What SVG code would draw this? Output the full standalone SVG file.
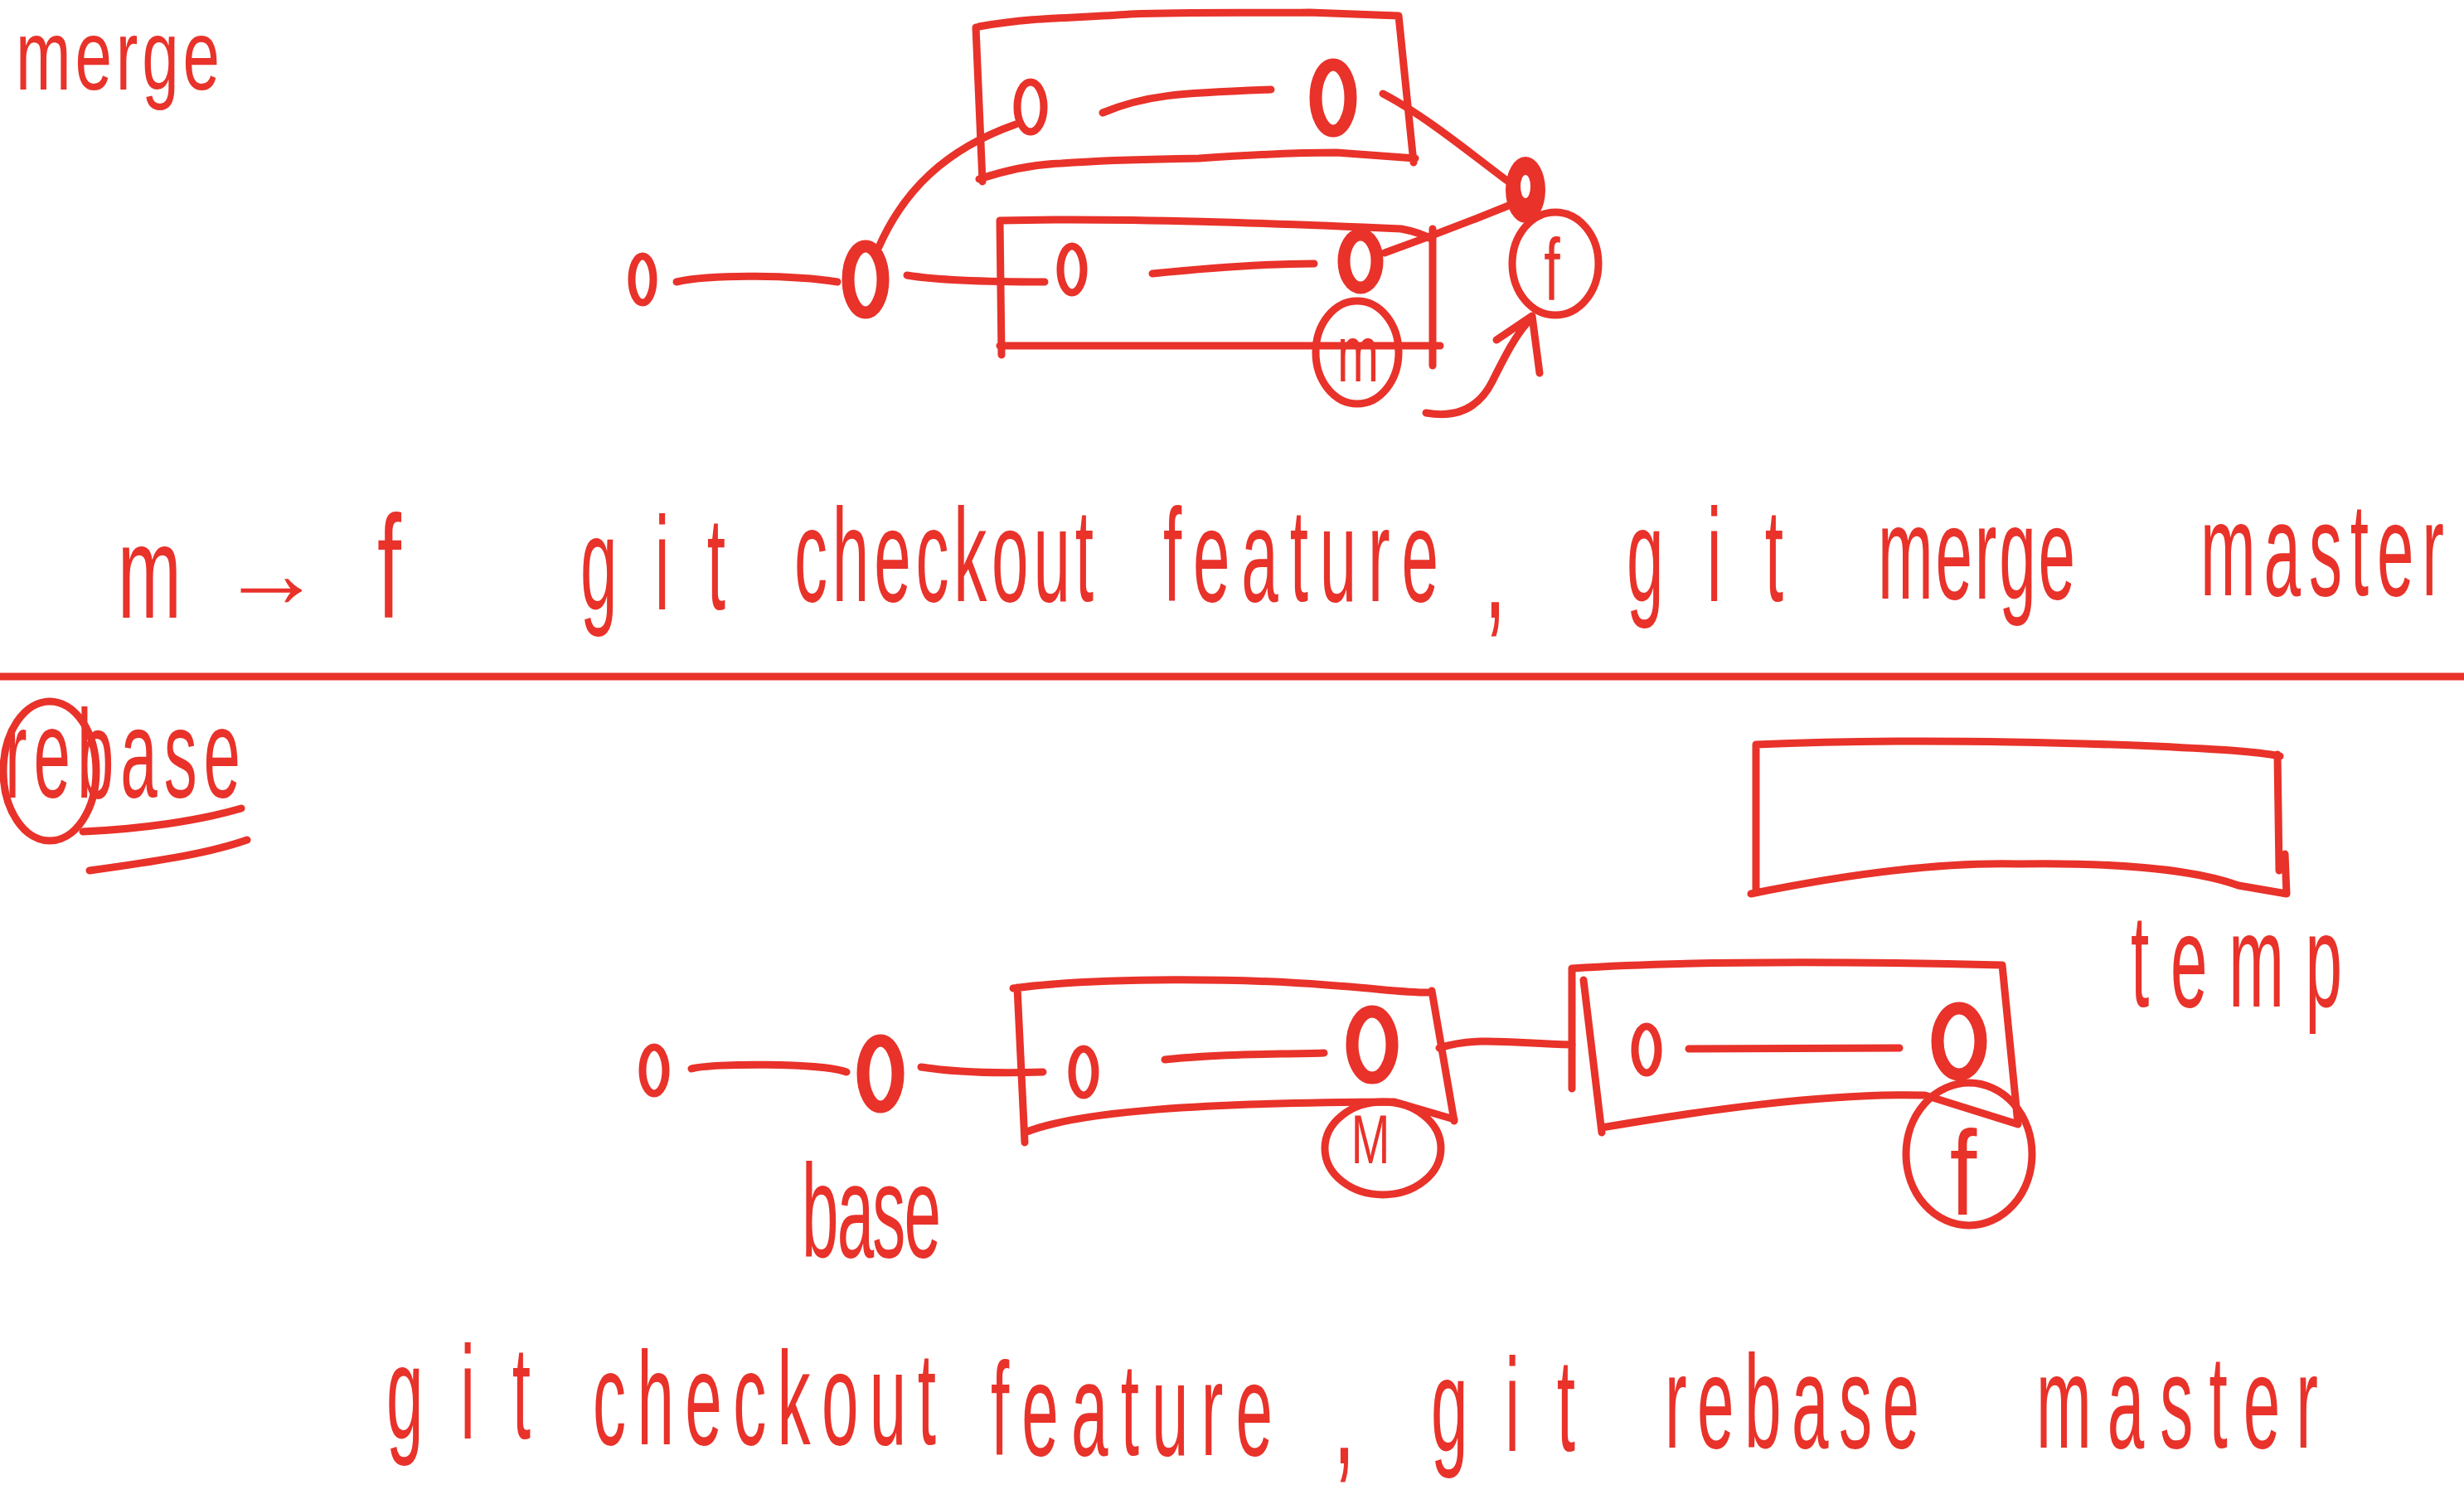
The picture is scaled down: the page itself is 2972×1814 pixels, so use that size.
<svg xmlns="http://www.w3.org/2000/svg" width="2972" height="1814" viewBox="0 0 2972 1814">
<style>
.ink{fill:none;stroke:#e8322a;stroke-width:9;stroke-linecap:round;stroke-linejoin:round}
.c{fill:none;stroke:#e8322a;stroke-width:9}
.cb{fill:none;stroke:#e8322a;stroke-width:15}
.hw{fill:#e8322a;font-family:"Liberation Sans","DejaVu Sans",sans-serif;font-size:80px}
.lb{fill:#e8322a;font-family:"Liberation Sans","DejaVu Sans",sans-serif;text-anchor:middle}
</style>
<rect width="2972" height="1814" fill="#ffffff"/>

<!-- titles and commands -->
<g id="labels">
<text class="hw" font-size="76" transform="translate(19,108) scale(1,1.5)" textLength="246" lengthAdjust="spacing">merge</text>
<text class="hw" transform="translate(142,745) scale(1.15,2)">m</text>
<text class="lb" font-size="120" transform="translate(327,732)" textLength="124" lengthAdjust="spacingAndGlyphs">→</text>
<text class="hw" transform="translate(455,745) scale(1.3,2.2)">f</text>
<text class="hw" transform="translate(700,735) scale(1,2)" textLength="175" lengthAdjust="spacing">git</text>
<text class="hw" transform="translate(958,725) scale(1,2)" textLength="361" lengthAdjust="spacing">checkout</text>
<text class="hw" transform="translate(1403,725) scale(1,2)" textLength="332" lengthAdjust="spacing">feature</text>
<text class="hw" transform="translate(1790,745) scale(1.2,2.2)">,</text>
<text class="hw" transform="translate(1962,725) scale(1,2)" textLength="189" lengthAdjust="spacing">git</text>
<text class="hw" transform="translate(2265,722) scale(1,2)" textLength="238" lengthAdjust="spacing">merge</text>
<text class="hw" transform="translate(2654,718) scale(1,2)" textLength="294" lengthAdjust="spacing">master</text>

<text class="hw" transform="translate(6,962) scale(1,1.9)" textLength="284" lengthAdjust="spacing">rebase</text>
<text class="hw" transform="translate(967,1516) scale(1,2)" textLength="168" lengthAdjust="spacing">base</text>
<text class="hw" transform="translate(2570,1214) scale(1,2)" textLength="255" lengthAdjust="spacing">temp</text>

<text class="hw" transform="translate(466,1735) scale(1,2)" textLength="174" lengthAdjust="spacing">git</text>
<text class="hw" transform="translate(715,1742) scale(1,2)" textLength="414" lengthAdjust="spacing">checkout</text>
<text class="hw" transform="translate(1195,1755) scale(1,2)" textLength="340" lengthAdjust="spacing">feature</text>
<text class="hw" transform="translate(1608,1765) scale(1.2,2.2)">,</text>
<text class="hw" transform="translate(1726,1750) scale(1,2)" textLength="174" lengthAdjust="spacing">git</text>
<text class="hw" transform="translate(2008,1746) scale(1,2)" textLength="307" lengthAdjust="spacing">rebase</text>
<text class="hw" transform="translate(2456,1746) scale(1,2)" textLength="340" lengthAdjust="spacing">master</text>
</g>

<!-- decorations -->
<g id="rebase-marks">
<ellipse class="c" cx="60" cy="930" rx="56" ry="84"/>
<path class="ink" d="M100,1003 C170,1000 240,990 291,975" stroke-width="10"/>
<path class="ink" d="M108,1050 C180,1040 250,1030 298,1013" stroke-width="10"/>
</g>
<path class="ink" id="divider" d="M0,816 L2972,816"/>

<!-- merge nodes -->
<g id="m-c1"><ellipse class="c" cx="775" cy="337" rx="13" ry="28"/></g>
<g id="m-c2"><ellipse class="cb" cx="1044" cy="337" rx="21" ry="40"/></g>
<g id="m-master-branch">
<path class="ink" d="M1206,266 C1350,262 1550,270 1690,276 Q1712,280 1728,289 M1206,266 L1208,428 M1728,276 L1728,441 M1206,417 L1737,417"/>
<ellipse class="c" cx="1293" cy="325" rx="14" ry="28"/>
<ellipse class="cb" cx="1641" cy="315" rx="20" ry="32"/>
</g>
<g id="m-feature-branch">
<path class="ink" d="M1181,32 C1250,20 1300,22 1363,17 C1450,14 1520,16 1579,15 L1687,19 M1177,33 L1185,219 M1687,19 L1705,196 M1181,216 C1220,203 1250,198 1280,197 C1350,192 1400,192 1446,191 C1520,186 1580,184 1612,184 L1707,191"/>
<ellipse class="c" cx="1243" cy="129" rx="16" ry="30"/>
<ellipse class="cb" cx="1608" cy="118" rx="21" ry="40"/>
</g>
<g id="m-merge-commit"><ellipse cx="1840" cy="229" rx="24" ry="40" fill="#e8322a"/><ellipse cx="1840" cy="225" rx="6" ry="14" fill="#ffffff"/></g>
<g id="m-f">
<ellipse class="c" cx="1876" cy="318" rx="52" ry="62"/>
<text class="lb" font-size="70" transform="translate(1872,362) scale(1,1.5)">f</text>
</g>
<g id="m-m">
<ellipse class="c" cx="1637" cy="425" rx="50" ry="62"/>
<text class="lb" font-size="60" transform="translate(1638,460) scale(1,1.6)">m</text>
</g>

<!-- rebase nodes -->
<g id="r-c1"><ellipse class="c" cx="789" cy="1291" rx="14" ry="28"/></g>
<g id="r-base"><ellipse class="cb" cx="1062" cy="1295" rx="21" ry="40"/></g>
<g id="r-master-branch">
<path class="ink" d="M1222,1192 C1330,1178 1500,1180 1600,1188 C1660,1192 1700,1198 1727,1197 M1227,1191 L1236,1378 M1727,1195 L1754,1352 M1236,1366 C1300,1340 1450,1330 1682,1329 L1754,1350"/>
<ellipse class="c" cx="1307" cy="1293" rx="14" ry="28"/>
<ellipse class="cb" cx="1655" cy="1260" rx="24" ry="40"/>
</g>
<g id="r-m">
<ellipse class="c" cx="1668" cy="1385" rx="70" ry="56"/>
<text class="lb" font-size="56" transform="translate(1653,1403) scale(1,1.5)">M</text>
</g>
<g id="r-feature-branch">
<path class="ink" d="M1896,1168 C2050,1158 2250,1160 2415,1164 M1896,1168 L1896,1313 M1910,1182 L1932,1366 M2415,1164 L2434,1356 M1932,1360 C2050,1340 2200,1318 2322,1321 L2434,1356"/>
<ellipse class="c" cx="1986" cy="1266" rx="14" ry="28"/>
<ellipse class="cb" cx="2363" cy="1256" rx="26" ry="40"/>
</g>
<g id="r-f">
<ellipse class="c" cx="2375" cy="1392" rx="76" ry="86"/>
<text class="lb" font-size="90" transform="translate(2368,1465) scale(1.3,1.6)">f</text>
</g>
<g id="r-temp">
<path class="ink" d="M2118,898 C2300,890 2500,896 2600,900 C2680,904 2720,906 2750,912 M2118,898 L2118,1072 M2747,910 L2749,1050 M2756,1030 L2758,1078 M2112,1078 C2250,1050 2350,1040 2434,1042 C2560,1040 2650,1050 2700,1068 L2758,1078"/>
</g>

<!-- connectors -->
<g id="connectors">
<path class="ink" d="M816,340 C860,330 960,332 1010,340"/>
<path class="ink" d="M1094,332 C1130,338 1180,340 1260,340"/>
<path class="ink" d="M1060,298 C1090,230 1140,180 1225,150" stroke-width="6"/>
<path class="ink" d="M1330,136 C1380,115 1420,112 1533,108"/>
<path class="ink" d="M1390,330 C1450,324 1520,318 1585,318"/>
<path class="ink" d="M1668,113 C1720,140 1780,190 1818,218"/>
<path class="ink" d="M1670,305 C1740,280 1790,260 1822,247" stroke-width="6"/>
<path class="ink" d="M1720,498 C1760,505 1785,490 1800,460 C1815,430 1830,400 1848,383 M1805,410 L1848,381 L1857,450"/>
<path class="ink" d="M834,1289 C860,1282 990,1282 1021,1293"/>
<path class="ink" d="M1111,1287 C1150,1293 1200,1295 1258,1293"/>
<path class="ink" d="M1405,1278 C1480,1270 1540,1272 1597,1270"/>
<path class="ink" d="M1736,1264 C1780,1250 1820,1258 1896,1260"/>
<path class="ink" d="M2037,1265 L2291,1264"/>
</g>
</svg>
